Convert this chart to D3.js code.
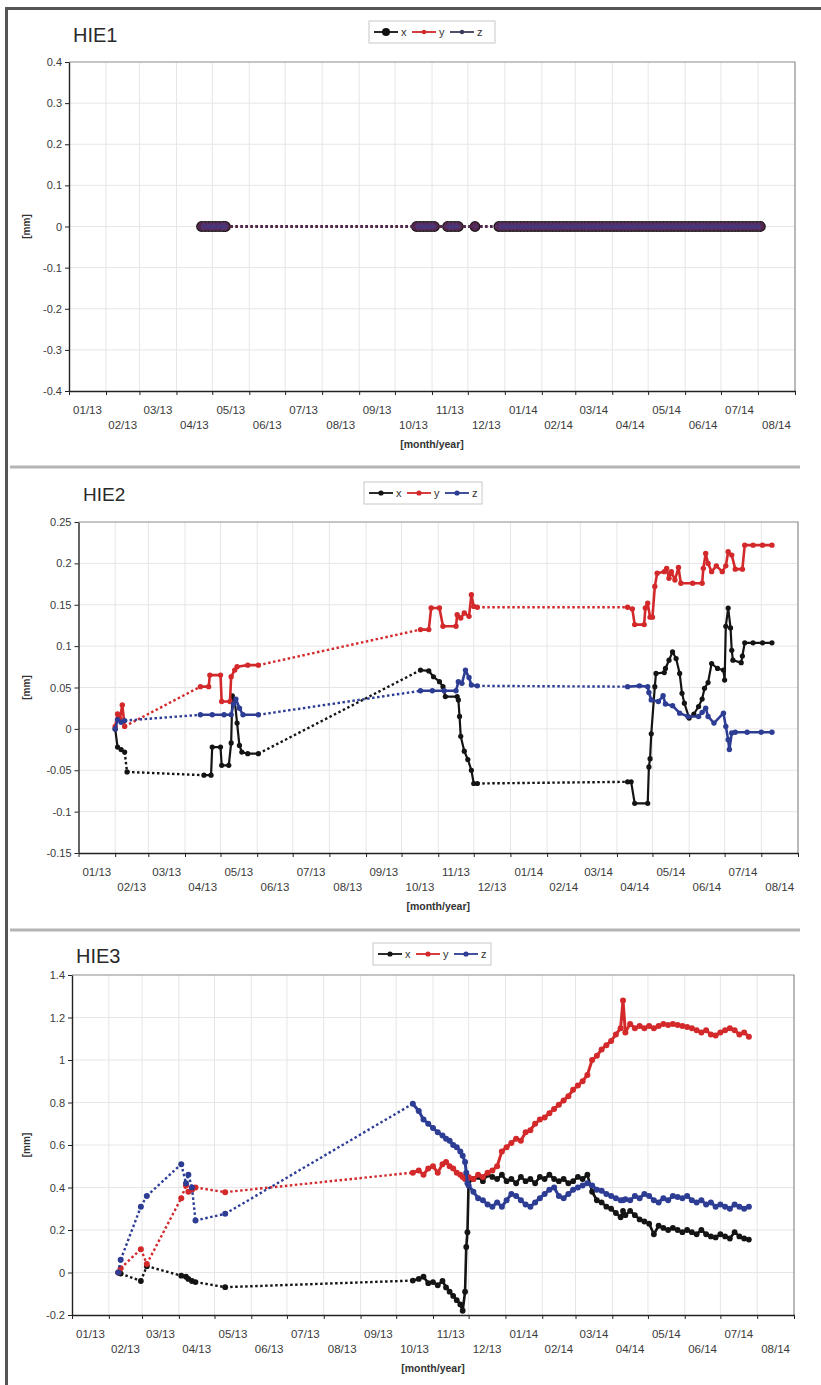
<!DOCTYPE html>
<html>
<head>
<meta charset="utf-8">
<script src="https://cdn.jsdelivr.net/npm/d3@7"></script>
<style>
body { margin: 0; background: #fff; }
svg { display: block; font-family: "Liberation Sans", Arial, sans-serif; }
</style>
</head>
<body>
<svg id="chart" width="821" height="1385"></svg>
<script>
var svg = d3.select("#chart");

// ---- data ----
var monthLabels = ["01/13","02/13","03/13","04/13","05/13","06/13","07/13","08/13","09/13","10/13",
                   "11/13","12/13","01/14","02/14","03/14","04/14","05/14","06/14","07/14","08/14"];
var seriesNames = ["x", "y", "z"];

var hie1YTicks = [-0.4, -0.3, -0.2, -0.1, 0, 0.1, 0.2, 0.3, 0.4];
var hie2YTicks = [-0.15, -0.1, -0.05, 0, 0.05, 0.1, 0.15, 0.2, 0.25];
var hie3YTicks = [-0.2, 0, 0.2, 0.4, 0.6, 0.8, 1, 1.2, 1.4];

// periods with continuous readings (joined by solid lines); gaps get dotted lines
var hie1Runs = [["2013-04-22","2013-05-12"],["2013-10-19","2013-11-03"],["2013-11-14","2013-11-23"],
                ["2013-12-07","2013-12-07"],["2013-12-27","2014-08-03"]];
var hie2Runs = [["2013-02-01","2013-02-09"],["2013-04-14","2013-06-02"],["2013-10-17","2013-12-04"],
                ["2014-04-10","2014-08-10"]];
var hie3Runs = [["2013-10-15","2014-07-25"]];

// HIE1: all three components stay at 0
var hie1Dates = ["2013-04-22","2013-04-25","2013-04-28","2013-05-01","2013-05-04","2013-05-07","2013-05-10","2013-05-12",
  "2013-10-19","2013-10-22","2013-10-25","2013-10-28","2013-10-31","2013-11-03",
  "2013-11-14","2013-11-17","2013-11-20","2013-11-23","2013-12-07",
  "2013-12-27","2013-12-30","2014-01-02","2014-01-05","2014-01-08","2014-01-11","2014-01-14","2014-01-17",
  "2014-01-20","2014-01-23","2014-01-26","2014-01-29","2014-02-01","2014-02-04","2014-02-07","2014-02-10",
  "2014-02-13","2014-02-16","2014-02-19","2014-02-22","2014-02-25","2014-02-28","2014-03-03","2014-03-06",
  "2014-03-09","2014-03-12","2014-03-15","2014-03-18","2014-03-21","2014-03-24","2014-03-27","2014-03-30",
  "2014-04-02","2014-04-05","2014-04-08","2014-04-11","2014-04-14","2014-04-17","2014-04-20","2014-04-23",
  "2014-04-26","2014-04-29","2014-05-02","2014-05-05","2014-05-08","2014-05-11","2014-05-14","2014-05-17",
  "2014-05-20","2014-05-23","2014-05-26","2014-05-29","2014-06-01","2014-06-04","2014-06-07","2014-06-10",
  "2014-06-13","2014-06-16","2014-06-19","2014-06-22","2014-06-25","2014-06-28","2014-07-01","2014-07-04",
  "2014-07-07","2014-07-10","2014-07-13","2014-07-16","2014-07-19","2014-07-22","2014-07-25","2014-07-28",
  "2014-07-31","2014-08-03"];
var hie1Value = 0;

// HIE2: [date, mm]
var hie2X = [["2013-02-01",0.000],["2013-02-03",-0.022],["2013-02-06",-0.025],["2013-02-09",-0.028],
  ["2013-02-11",-0.052],["2013-04-17",-0.056],["2013-04-23",-0.056],["2013-04-24",-0.022],["2013-05-01",-0.022],
  ["2013-05-02",-0.044],["2013-05-08",-0.044],["2013-05-10",-0.017],["2013-05-11",0.040],["2013-05-13",0.035],
  ["2013-05-15",0.007],["2013-05-17",-0.020],["2013-05-19",-0.028],["2013-05-24",-0.030],["2013-06-02",-0.030],
  ["2013-10-17",0.071],["2013-10-24",0.070],["2013-10-28",0.063],["2013-11-02",0.057],["2013-11-05",0.051],
  ["2013-11-07",0.039],["2013-11-17",0.039],["2013-11-18",0.035],["2013-11-19",0.015],["2013-11-20",-0.009],
  ["2013-11-23",-0.027],["2013-11-26",-0.037],["2013-11-29",-0.050],["2013-12-01",-0.066],["2013-12-04",-0.066],
  ["2014-04-10",-0.064],["2014-04-13",-0.064],["2014-04-16",-0.090],["2014-04-27",-0.090],["2014-04-28",-0.046],
  ["2014-04-29",-0.036],["2014-04-30",-0.006],["2014-05-03",0.051],["2014-05-04",0.067],["2014-05-11",0.068],
  ["2014-05-12",0.073],["2014-05-15",0.083],["2014-05-18",0.093],["2014-05-21",0.085],["2014-05-24",0.067],
  ["2014-05-26",0.043],["2014-05-28",0.031],["2014-06-01",0.013],["2014-06-05",0.018],["2014-06-09",0.027],
  ["2014-06-12",0.036],["2014-06-14",0.049],["2014-06-17",0.056],["2014-06-20",0.079],["2014-06-25",0.073],
  ["2014-06-30",0.071],["2014-07-01",0.059],["2014-07-02",0.124],["2014-07-04",0.146],["2014-07-06",0.122],
  ["2014-07-07",0.095],["2014-07-08",0.083],["2014-07-15",0.080],["2014-07-16",0.088],["2014-07-18",0.104],
  ["2014-07-25",0.104],["2014-08-02",0.104],["2014-08-10",0.104]];
var hie2Y = [["2013-02-01",0.003],["2013-02-03",0.018],["2013-02-05",0.012],["2013-02-07",0.029],["2013-02-09",0.003],
  ["2013-04-14",0.051],["2013-04-21",0.051],["2013-04-22",0.065],["2013-05-01",0.065],["2013-05-02",0.033],
  ["2013-05-09",0.033],["2013-05-10",0.063],["2013-05-13",0.071],["2013-05-15",0.075],["2013-05-24",0.077],
  ["2013-06-02",0.077],
  ["2013-10-17",0.120],["2013-10-24",0.120],["2013-10-26",0.146],["2013-11-02",0.146],["2013-11-05",0.124],
  ["2013-11-16",0.124],["2013-11-17",0.138],["2013-11-20",0.134],["2013-11-23",0.140],["2013-11-27",0.136],
  ["2013-11-29",0.162],["2013-12-01",0.148],["2013-12-04",0.147],
  ["2014-04-10",0.147],["2014-04-14",0.145],["2014-04-16",0.126],["2014-04-24",0.126],["2014-04-25",0.146],
  ["2014-04-27",0.152],["2014-04-29",0.135],["2014-05-01",0.135],["2014-05-03",0.172],["2014-05-05",0.188],
  ["2014-05-11",0.190],["2014-05-13",0.194],["2014-05-15",0.182],["2014-05-17",0.190],["2014-05-20",0.180],
  ["2014-05-23",0.195],["2014-05-25",0.176],["2014-06-04",0.176],["2014-06-12",0.176],["2014-06-13",0.194],
  ["2014-06-15",0.212],["2014-06-17",0.200],["2014-06-20",0.190],["2014-06-24",0.197],["2014-06-29",0.190],
  ["2014-07-02",0.197],["2014-07-04",0.214],["2014-07-07",0.210],["2014-07-10",0.193],["2014-07-16",0.193],
  ["2014-07-18",0.222],["2014-07-25",0.222],["2014-08-02",0.222],["2014-08-10",0.222]];
var hie2Z = [["2013-02-01",0.000],["2013-02-03",0.011],["2013-02-06",0.008],["2013-02-09",0.010],
  ["2013-04-14",0.017],["2013-04-24",0.017],["2013-05-04",0.017],["2013-05-10",0.017],["2013-05-12",0.030],
  ["2013-05-14",0.036],["2013-05-17",0.025],["2013-05-20",0.017],["2013-06-02",0.017],
  ["2013-10-17",0.046],["2013-10-27",0.046],["2013-11-06",0.046],["2013-11-16",0.046],["2013-11-18",0.057],
  ["2013-11-21",0.055],["2013-11-24",0.071],["2013-11-27",0.062],["2013-11-29",0.053],["2013-12-04",0.052],
  ["2014-04-10",0.051],["2014-04-20",0.052],["2014-04-27",0.051],["2014-04-28",0.044],["2014-04-30",0.035],
  ["2014-05-06",0.033],["2014-05-10",0.040],["2014-05-12",0.030],["2014-05-18",0.028],["2014-05-24",0.019],
  ["2014-05-31",0.015],["2014-06-09",0.015],["2014-06-12",0.020],["2014-06-15",0.025],["2014-06-17",0.015],
  ["2014-06-22",0.007],["2014-06-30",0.019],["2014-07-02",0.003],["2014-07-04",-0.013],["2014-07-05",-0.025],
  ["2014-07-07",-0.005],["2014-07-10",-0.004],["2014-07-20",-0.004],["2014-08-01",-0.004],["2014-08-10",-0.004]];

// HIE3: shared reading dates
var hie3Dates = ["2013-02-09","2013-02-11","2013-02-28","2013-03-05","2013-04-03","2013-04-07","2013-04-09",
  "2013-04-12","2013-04-15","2013-05-10",
  "2013-10-15","2013-10-20","2013-10-24","2013-10-28","2013-11-01","2013-11-05","2013-11-09","2013-11-12",
  "2013-11-15","2013-11-18","2013-11-21","2013-11-24","2013-11-26","2013-11-28","2013-11-29","2013-11-30",
  "2013-12-01","2013-12-05","2013-12-09","2013-12-13","2013-12-17","2013-12-21","2013-12-25","2013-12-29",
  "2014-01-02","2014-01-06","2014-01-10","2014-01-14","2014-01-18","2014-01-22","2014-01-26","2014-01-30",
  "2014-02-03","2014-02-07","2014-02-11","2014-02-15","2014-02-19","2014-02-23","2014-02-27","2014-03-03",
  "2014-03-07","2014-03-11","2014-03-15","2014-03-19","2014-03-23","2014-03-27","2014-03-31","2014-04-04",
  "2014-04-08","2014-04-10","2014-04-12","2014-04-16","2014-04-20","2014-04-24","2014-04-28","2014-05-02",
  "2014-05-06","2014-05-10","2014-05-14","2014-05-18","2014-05-22","2014-05-26","2014-05-30","2014-06-03",
  "2014-06-07","2014-06-11","2014-06-15","2014-06-19","2014-06-23","2014-06-27","2014-07-01","2014-07-05",
  "2014-07-09","2014-07-13","2014-07-17","2014-07-21","2014-07-25"];
var hie3X = [0, -0.005, -0.04, 0.03, -0.015, -0.02, -0.03, -0.04, -0.045, -0.069,
  -0.038, -0.03, -0.02, -0.05, -0.045, -0.06, -0.04, -0.07,
  -0.09, -0.11, -0.13, -0.15, -0.18, -0.09, 0.12, 0.19,
  0.43, 0.44, 0.45, 0.43, 0.46, 0.45, 0.44, 0.46,
  0.43, 0.44, 0.42, 0.45, 0.43, 0.44, 0.42, 0.45,
  0.44, 0.46, 0.44, 0.43, 0.44, 0.42, 0.43, 0.45,
  0.44, 0.46, 0.38, 0.34, 0.33, 0.31, 0.30, 0.28,
  0.26, 0.29, 0.27, 0.29, 0.27, 0.25, 0.24, 0.23,
  0.18, 0.22, 0.21, 0.20, 0.21, 0.20, 0.19, 0.20,
  0.19, 0.18, 0.20, 0.18, 0.17, 0.165, 0.18, 0.17,
  0.16, 0.19, 0.17, 0.16, 0.155];
var hie3Y = [0, 0.02, 0.11, 0.04, 0.35, 0.41, 0.38, 0.39, 0.40, 0.378,
  0.47, 0.48, 0.46, 0.49, 0.50, 0.47, 0.51, 0.52,
  0.50, 0.49, 0.47, 0.46, 0.45, 0.44, 0.45, 0.44,
  0.45, 0.44, 0.46, 0.45, 0.47, 0.48, 0.50, 0.57,
  0.59, 0.61, 0.63, 0.62, 0.66, 0.67, 0.70, 0.72,
  0.73, 0.75, 0.77, 0.79, 0.81, 0.83, 0.86, 0.88,
  0.90, 0.93, 1.00, 1.02, 1.05, 1.07, 1.09, 1.12,
  1.15, 1.28, 1.13, 1.17, 1.15, 1.16, 1.15, 1.16,
  1.15, 1.16, 1.17, 1.165, 1.17, 1.165, 1.16, 1.155,
  1.15, 1.14, 1.13, 1.14, 1.12, 1.115, 1.13, 1.14,
  1.15, 1.14, 1.12, 1.13, 1.11];
var hie3Z = [0, 0.06, 0.31, 0.36, 0.51, 0.42, 0.46, 0.40, 0.245, 0.276,
  0.794, 0.76, 0.72, 0.70, 0.68, 0.66, 0.645, 0.63,
  0.62, 0.60, 0.59, 0.57, 0.55, 0.52, 0.47, 0.42,
  0.41, 0.38, 0.35, 0.34, 0.32, 0.31, 0.33, 0.31,
  0.34, 0.37, 0.36, 0.34, 0.32, 0.31, 0.33, 0.35,
  0.37, 0.39, 0.40, 0.36, 0.35, 0.37, 0.39, 0.40,
  0.41, 0.42, 0.41, 0.39, 0.385, 0.37, 0.36, 0.35,
  0.34, 0.34, 0.345, 0.34, 0.36, 0.35, 0.37, 0.36,
  0.34, 0.33, 0.35, 0.34, 0.36, 0.355, 0.35, 0.36,
  0.34, 0.33, 0.34, 0.32, 0.33, 0.31, 0.32, 0.31,
  0.30, 0.32, 0.31, 0.30, 0.31];

// ---- helpers ----
var parseDate = d3.timeParse("%Y-%m-%d");
var timeStart = new Date(2013, 0, 1);
var timeEnd = new Date(2014, 8, 1);
var colours = { x: "#141414", y: "#d3292b", z: "#2d3d94" };

function fmt(v) { return String(+v.toFixed(2)); }

function runIndex(date, runs) {
    for (var i = 0; i < runs.length; i++) {
        if (date >= parseDate(runs[i][0]) && date <= parseDate(runs[i][1])) return i;
    }
    return -1;
}

function drawSeries(g, pts, runs, x, y, style) {
    // split into solid pieces (inside one run) and dotted links (across a gap)
    var solid = [], dotted = [], current = [pts[0]];
    for (var i = 1; i < pts.length; i++) {
        var a = runIndex(pts[i-1].date, runs), b = runIndex(pts[i].date, runs);
        if (a >= 0 && a == b) {
            current.push(pts[i]);
        } else {
            if (current.length > 1) solid.push(current);
            current = [pts[i]];
            dotted.push([pts[i-1], pts[i]]);
        }
    }
    if (current.length > 1) solid.push(current);

    var line = d3.line().x(function(d) {return x(d.date)}).y(function(d) {return y(d.v)});

    g.selectAll(null).data(dotted).enter().append("path")
        .attr("d", line)
        .attr("fill", "none")
        .attr("stroke", style.colour)
        .attr("stroke-opacity", style.opacity)
        .attr("stroke-width", style.dotWidth)
        .attr("stroke-dasharray", style.dash);

    g.selectAll(null).data(solid).enter().append("path")
        .attr("d", line)
        .attr("fill", "none")
        .attr("stroke", style.colour)
        .attr("stroke-opacity", style.opacity)
        .attr("stroke-width", style.lineWidth)
        .attr("stroke-linejoin", "round");

    g.selectAll(null).data(pts).enter().append("circle")
        .attr("cx", function(d) {return x(d.date)})
        .attr("cy", function(d) {return y(d.v)})
        .attr("r", style.r)
        .attr("fill", style.fill || style.colour)
        .attr("fill-opacity", style.opacity);
}

function drawLegend(p) {
    var lg = svg.append("g");
    lg.append("rect")
        .attr("x", p.legend[0]).attr("y", p.legend[1])
        .attr("width", p.legend[2]).attr("height", 22)
        .attr("fill", "#fff").attr("stroke", "#c8c8c8");
    var cy = p.legend[1] + 11;
    seriesNames.forEach(function(name, i) {
        var x0 = p.legend[0] + 5 + i * 38;
        var st = p.styles[name];
        lg.append("line").attr("x1", x0).attr("x2", x0 + 24).attr("y1", cy).attr("y2", cy)
            .attr("stroke", st.legendColour || st.colour).attr("stroke-width", 1.8);
        lg.append("circle").attr("cx", x0 + 12).attr("cy", cy).attr("r", st.legendR)
            .attr("fill", st.legendColour || st.colour);
        lg.append("text").attr("x", x0 + 27).attr("y", cy + 4)
            .attr("font-size", 11).attr("fill", "#333").text(name);
    });
}

function drawPanel(p) {
    var g = svg.append("g");
    var x = d3.scaleTime().domain([timeStart, timeEnd]).range([p.left, p.right]);
    var y = d3.scaleLinear().domain(d3.extent(p.yTicks)).range([p.bottom, p.top]);
    var months = d3.timeMonth.range(timeStart, d3.timeDay.offset(timeEnd, 1));

    // grid
    g.selectAll(null).data(months.slice(1, -1)).enter().append("line")
        .attr("x1", function(d) {return x(d)}).attr("x2", function(d) {return x(d)})
        .attr("y1", p.top).attr("y2", p.bottom)
        .attr("stroke", "#e6e6e6");
    g.selectAll(null).data(p.yTicks.slice(1, -1)).enter().append("line")
        .attr("x1", p.left).attr("x2", p.right)
        .attr("y1", function(d) {return y(d)}).attr("y2", function(d) {return y(d)})
        .attr("stroke", "#e6e6e6");

    // frame
    g.append("path")
        .attr("d", "M" + p.left + "," + p.top + "H" + p.right + "V" + p.bottom)
        .attr("fill", "none").attr("stroke", "#8c8c8c").attr("stroke-width", 1.2);

    var axisY = d3.axisLeft(y).tickValues(p.yTicks).tickSize(4).tickSizeOuter(0).tickPadding(3).tickFormat(fmt);
    var axisX = d3.axisBottom(x).tickValues(months).tickSize(4).tickSizeOuter(0).tickFormat("");
    var ay = g.append("g").attr("transform", "translate(" + p.left + ",0)").call(axisY);
    var ax = g.append("g").attr("transform", "translate(0," + p.bottom + ")").call(axisX);
    [ay, ax].forEach(function(a) {
        a.select(".domain").attr("stroke", "#222").attr("stroke-width", 1.4);
        a.selectAll(".tick line").attr("stroke", "#222");
        a.selectAll("text").attr("font-size", 11).attr("fill", "#3a3a3a")
            .attr("font-family", "'Liberation Sans', Arial, sans-serif");
    });

    // month labels in two staggered rows, centred in each month
    g.selectAll(null).data(monthLabels).enter().append("text")
        .attr("x", function(d, i) {return (x(months[i]) + x(months[i+1])) / 2})
        .attr("y", function(d, i) {return p.bottom + (i % 2 ? 38 : 23)})
        .attr("text-anchor", "middle")
        .attr("font-size", 11.5).attr("fill", "#3a3a3a")
        .text(function(d) {return d});

    g.append("text")
        .text("[month/year]")
        .attr("x", (p.left + p.right) / 2)
        .attr("y", p.bottom + 57)
        .attr("text-anchor", "middle")
        .attr("font-size", 10.5).attr("font-weight", "bold").attr("fill", "#333");

    g.append("text")
        .text("[mm]")
        .attr("transform", "rotate(-90, 30, " + (p.top + p.bottom) / 2 + ")")
        .attr("x", 30).attr("y", (p.top + p.bottom) / 2)
        .attr("text-anchor", "middle")
        .attr("font-size", 10).attr("font-weight", "bold").attr("fill", "#333");

    g.append("text")
        .text(p.title)
        .attr("x", p.titleX).attr("y", p.titleY)
        .attr("font-size", p.titleSize).attr("fill", "#2a2a2a");

    seriesNames.forEach(function(name) {
        drawSeries(g, p.series[name], p.runs, x, y, p.styles[name]);
    });

    drawLegend(p);
}

function pairs(list) {
    return list.map(function(d) {return {date: parseDate(d[0]), v: d[1]}});
}

function zipDates(dates, values) {
    return dates.map(function(d, i) {return {date: parseDate(d), v: values[i]}});
}

// ---- outer frame and separators ----
svg.append("line").attr("x1", 5).attr("x2", 821).attr("y1", 8.5).attr("y2", 8.5)
    .attr("stroke", "#555").attr("stroke-width", 3);
svg.append("line").attr("x1", 6.5).attr("x2", 6.5).attr("y1", 7).attr("y2", 1385)
    .attr("stroke", "#555").attr("stroke-width", 3);
[467, 930].forEach(function(yy) {
    svg.append("line").attr("x1", 10).attr("x2", 800).attr("y1", yy).attr("y2", yy)
        .attr("stroke", "#b4b4b4").attr("stroke-width", 3);
});

// ---- panels ----
var hie1Points = hie1Dates.map(function(d) {return {date: parseDate(d), v: hie1Value}});
var smallStyle = function(c, w, r) {
    return {colour: c, opacity: 1, lineWidth: w, dotWidth: 2.4, dash: "2.5,2.5", r: r, legendR: 2.6};
};

drawPanel({
    title: "HIE1", titleX: 73, titleY: 42, titleSize: 20,
    left: 69, right: 795, top: 62, bottom: 391,
    yTicks: hie1YTicks, runs: hie1Runs,
    legend: [369, 21, 126],
    series: {x: hie1Points, y: hie1Points, z: hie1Points},
    styles: {
        x: {colour: "#111", opacity: 1, lineWidth: 2, dotWidth: 2.8, dash: "2.5,2.5", r: 5.4, legendR: 4},
        y: {colour: colours.y, opacity: 0.45, lineWidth: 2, dotWidth: 2.8, dash: "2.5,2.5", r: 4.4, legendR: 2.2, legendColour: colours.y},
        z: {colour: colours.z, opacity: 0.4, lineWidth: 2, dotWidth: 2.8, dash: "2.5,2.5", r: 4.4, legendR: 2.2, legendColour: "#3b3b5a"}
    }
});

drawPanel({
    title: "HIE2", titleX: 83, titleY: 501, titleSize: 19,
    left: 78.5, right: 798, top: 522, bottom: 853,
    yTicks: hie2YTicks, runs: hie2Runs,
    legend: [364, 482, 118],
    series: {x: pairs(hie2X), y: pairs(hie2Y), z: pairs(hie2Z)},
    styles: {x: smallStyle(colours.x, 2.2, 2.6), y: smallStyle(colours.y, 2.6, 2.7), z: smallStyle(colours.z, 2.6, 2.7)}
});

drawPanel({
    title: "HIE3", titleX: 76, titleY: 963, titleSize: 20,
    left: 72, right: 794, top: 975, bottom: 1315,
    yTicks: hie3YTicks, runs: hie3Runs,
    legend: [373, 943, 118],
    series: {x: zipDates(hie3Dates, hie3X), y: zipDates(hie3Dates, hie3Y), z: zipDates(hie3Dates, hie3Z)},
    styles: {x: smallStyle(colours.x, 2.6, 2.9), y: smallStyle(colours.y, 3, 3), z: smallStyle(colours.z, 3, 3)}
});
</script>
</body>
</html>
